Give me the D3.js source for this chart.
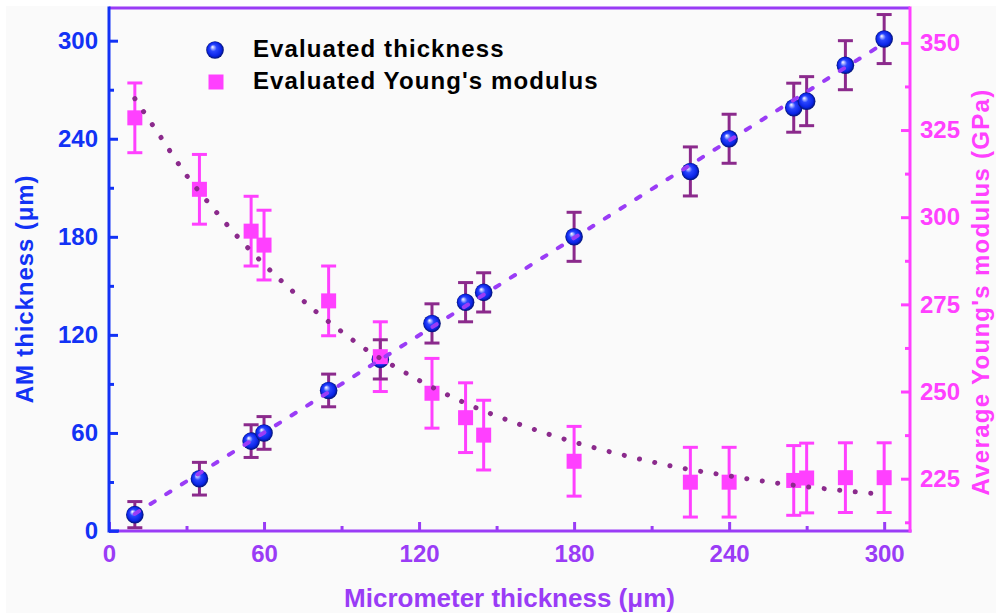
<!DOCTYPE html>
<html>
<head>
<meta charset="utf-8">
<script src="https://cdn.jsdelivr.net/npm/d3@7"></script>
<style>
  html, body { margin: 0; padding: 0; background: #ffffff; }
  svg { display: block; }
  text { font-family: "Liberation Sans", Arial, sans-serif; font-weight: bold; }
</style>
</head>
<body>
<svg id="chart" width="996" height="615"></svg>
<script>
// ---------- data ----------
const micrometerX = [10, 35, 55, 60, 85, 105, 125, 138, 145, 180, 225, 240, 265, 270, 285, 300];
const amThickness = [10, 32, 55, 60, 86, 105, 127, 140, 146, 180, 220, 240, 259, 263, 285, 301];
const amThicknessErr = [8, 10, 10, 10, 10, 12, 12, 12, 12, 15, 15, 15, 15, 15, 15, 15];
const youngsModulus = [328.5, 308, 296, 292, 276, 260, 249.5, 242.5, 237.5, 230, 224, 224, 224.5, 225.2, 225.3, 225.3];
const youngsErr = [10, 10, 10, 10, 10, 10, 10, 10, 10, 10, 10, 10, 10, 10, 10, 10];
const thickFitX = [10, 300];
const thickFitY = [10.5, 298.5];
const modFitX = [10, 20, 30, 40, 50, 60, 70, 80, 90, 100, 110, 120, 140, 160, 180, 200, 220, 240, 260, 280, 300];
const modFitY = [334, 323, 312, 302.8, 294.2, 286.5, 279.5, 273, 267.2, 261.8, 257.4, 253.2, 246, 240.3, 235.5, 231.6, 228.3, 225.8, 223.6, 221.9, 220.5];
const xTicks = [0, 60, 120, 180, 240, 300];
const xMinorTicks = [30, 90, 150, 210, 270];
const yLeftTicks = [0, 60, 120, 180, 240, 300];
const yLeftMinorTicks = [30, 90, 150, 210, 270];
const yRightTicks = [225, 250, 275, 300, 325, 350];
const yRightMinorTicks = [212.5, 237.5, 262.5, 287.5, 312.5, 337.5];
const legendLabels = ["Evaluated thickness", "Evaluated Young's modulus"];
const xTitle = "Micrometer thickness (\u03bcm)";
const yLeftTitle = "AM thickness (\u03bcm)";
const yRightTitle = "Average Young's modulus (GPa)";

// ---------- colors ----------
const BLUE = "#1232f5";
const PURPLE = "#9a3cf6";
const MAGENTA = "#ff40ff";
const DARK = "#8b2a8c";

const svg = d3.select("#chart");
svg.append("rect").attr("x", 6).attr("y", 6).attr("width", 990).attr("height", 607).attr("fill", "#fafafa");

const defs = svg.append("defs");
const grad = defs.append("radialGradient").attr("id", "sphere")
  .attr("cx", "50%").attr("cy", "50%").attr("r", "50%").attr("fx", "35%").attr("fy", "32%");
grad.append("stop").attr("offset", "0%").attr("stop-color", "#ffffff");
grad.append("stop").attr("offset", "14%").attr("stop-color", "#b4bcff");
grad.append("stop").attr("offset", "38%").attr("stop-color", "#2a46ff");
grad.append("stop").attr("offset", "78%").attr("stop-color", "#0a24e6");
grad.append("stop").attr("offset", "100%").attr("stop-color", "#031270");

// ---------- scales ----------
const L = 109, R = 910, T = 8, B = 531;
const x = d3.scaleLinear().domain([0, 310]).range([L, R]);
const yL = d3.scaleLinear().domain([0, 320]).range([B, T]);
const yR = d3.scaleLinear().domain([210, 360]).range([B, T]);

// ---------- axes ----------
function styleAxis(g, color, fontSize) {
  g.select(".domain").remove();
  g.selectAll(".tick line").attr("stroke", color).attr("stroke-width", 3);
  g.selectAll(".tick text").attr("fill", color).attr("font-size", fontSize)
    .attr("font-family", "Liberation Sans, Arial, sans-serif").attr("font-weight", "bold");
}

// left
const gL = svg.append("g").attr("transform", `translate(${L},0)`);
gL.call(d3.axisLeft(yL).tickValues(yLeftTicks).tickSizeInner(-9).tickSizeOuter(0).tickPadding(11));
styleAxis(gL, BLUE, 24);
const gLm = svg.append("g").attr("transform", `translate(${L},0)`);
gLm.call(d3.axisLeft(yL).tickValues(yLeftMinorTicks).tickSizeInner(-5).tickSizeOuter(0).tickFormat(""));
styleAxis(gLm, BLUE, 24);

// bottom
const gB = svg.append("g").attr("transform", `translate(0,${B})`);
gB.call(d3.axisBottom(x).tickValues(xTicks).tickSizeInner(-9).tickSizeOuter(0).tickPadding(14));
styleAxis(gB, PURPLE, 24);
const gBm = svg.append("g").attr("transform", `translate(0,${B})`);
gBm.call(d3.axisBottom(x).tickValues(xMinorTicks).tickSizeInner(-5).tickSizeOuter(0).tickFormat(""));
styleAxis(gBm, PURPLE, 24);

// right
const gR = svg.append("g").attr("transform", `translate(${R},0)`);
gR.call(d3.axisRight(yR).tickValues(yRightTicks).tickSizeInner(-9).tickSizeOuter(0).tickPadding(10));
styleAxis(gR, MAGENTA, 24);
const gRm = svg.append("g").attr("transform", `translate(${R},0)`);
gRm.call(d3.axisRight(yR).tickValues(yRightMinorTicks).tickSizeInner(-5).tickSizeOuter(0).tickFormat(""));
styleAxis(gRm, MAGENTA, 24);

// frame lines
svg.append("line").attr("x1", L).attr("x2", R).attr("y1", T).attr("y2", T).attr("stroke", PURPLE).attr("stroke-width", 3);
svg.append("line").attr("x1", L).attr("x2", R + 1.5).attr("y1", B).attr("y2", B).attr("stroke", PURPLE).attr("stroke-width", 3);
svg.append("line").attr("x1", L).attr("x2", L + 10).attr("y1", B).attr("y2", B).attr("stroke", BLUE).attr("stroke-width", 3);
svg.append("line").attr("x1", L).attr("x2", L).attr("y1", T - 1.5).attr("y2", B + 1.5).attr("stroke", BLUE).attr("stroke-width", 3);
svg.append("line").attr("x1", R).attr("x2", R).attr("y1", T - 1.5).attr("y2", B + 1.5).attr("stroke", MAGENTA).attr("stroke-width", 3);

// ---------- titles ----------
svg.append("text").attr("x", x(155)).attr("y", 607).attr("text-anchor", "middle")
  .attr("font-size", 26).attr("fill", PURPLE).text(xTitle);
svg.append("text").attr("transform", "translate(32.5,289) rotate(-90)").attr("text-anchor", "middle")
  .attr("font-size", 24).attr("letter-spacing", 0.9).attr("fill", BLUE).text(yLeftTitle);
svg.append("text").attr("transform", "translate(989,292) rotate(-90)").attr("text-anchor", "middle")
  .attr("font-size", 24).attr("letter-spacing", 1.3).attr("fill", MAGENTA).text(yRightTitle);

// ---------- data marks ----------
const idx = d3.range(micrometerX.length);
const capW = 15;

// modulus error bars
const gME = svg.append("g").attr("stroke", MAGENTA).attr("stroke-width", 3);
idx.forEach(i => {
  const cx = x(micrometerX[i]);
  const y1 = yR(youngsModulus[i] + youngsErr[i]), y2 = yR(youngsModulus[i] - youngsErr[i]);
  gME.append("line").attr("x1", cx).attr("x2", cx).attr("y1", y1).attr("y2", y2);
  gME.append("line").attr("x1", cx - capW / 2).attr("x2", cx + capW / 2).attr("y1", y1).attr("y2", y1);
  gME.append("line").attr("x1", cx - capW / 2).attr("x2", cx + capW / 2).attr("y1", y2).attr("y2", y2);
});

// thickness error bars
const gTE = svg.append("g").attr("stroke", DARK).attr("stroke-width", 3);
idx.forEach(i => {
  const cx = x(micrometerX[i]);
  const y1 = yL(amThickness[i] + amThicknessErr[i]), y2 = yL(amThickness[i] - amThicknessErr[i]);
  gTE.append("line").attr("x1", cx).attr("x2", cx).attr("y1", y1).attr("y2", y2);
  gTE.append("line").attr("x1", cx - capW / 2).attr("x2", cx + capW / 2).attr("y1", y1).attr("y2", y1);
  gTE.append("line").attr("x1", cx - capW / 2).attr("x2", cx + capW / 2).attr("y1", y2).attr("y2", y2);
});

// spheres
svg.append("g").selectAll("circle").data(idx).join("circle")
  .attr("cx", i => x(micrometerX[i])).attr("cy", i => yL(amThickness[i])).attr("r", 8.8)
  .attr("fill", "url(#sphere)");

// squares
const sq = 15;
svg.append("g").selectAll("rect").data(idx).join("rect")
  .attr("x", i => x(micrometerX[i]) - sq / 2).attr("y", i => yR(youngsModulus[i]) - sq / 2)
  .attr("width", sq).attr("height", sq).attr("fill", MAGENTA);

// fit lines
const thickLine = d3.line().x(d => x(d[0])).y(d => yL(d[1]));
svg.append("path").datum(thickFitX.map((v, i) => [v, thickFitY[i]]))
  .attr("d", thickLine).attr("fill", "none").attr("stroke", PURPLE).attr("stroke-width", 4)
  .attr("stroke-linecap", "round").attr("stroke-dasharray", "5 13.5");

const modLine = d3.line().x(d => x(d[0])).y(d => yR(d[1])).curve(d3.curveMonotoneX);
svg.append("path").datum(modFitX.map((v, i) => [v, modFitY[i]]))
  .attr("d", modLine).attr("fill", "none").attr("stroke", DARK).attr("stroke-width", 5)
  .attr("stroke-linecap", "round").attr("stroke-dasharray", "0.1 15.5");

// ---------- legend ----------
svg.append("circle").attr("cx", 215).attr("cy", 50).attr("r", 8.8).attr("fill", "url(#sphere)");
svg.append("rect").attr("x", 216 - 7.5).attr("y", 82 - 7.5).attr("width", 15).attr("height", 15).attr("fill", MAGENTA);
svg.append("text").attr("x", 253).attr("y", 57).attr("font-size", 24).attr("letter-spacing", 1.1)
  .attr("fill", "#000").text(legendLabels[0]);
svg.append("text").attr("x", 253).attr("y", 89).attr("font-size", 24).attr("letter-spacing", 1.1)
  .attr("fill", "#000").text(legendLabels[1]);
</script>
</body>
</html>
